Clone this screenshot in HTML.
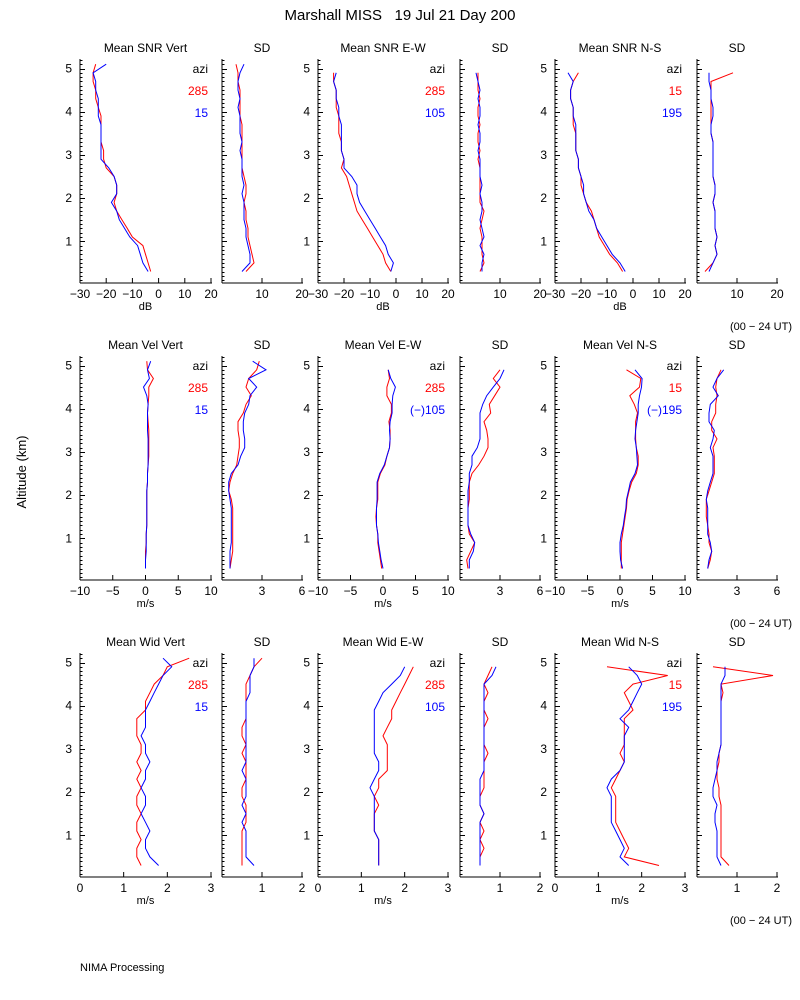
<!DOCTYPE html>
<html><head><meta charset="utf-8"><style>
body{margin:0;background:#fff;}
svg{display:block;font-family:"Liberation Sans",sans-serif;}
text{font-size:12px;}
</style></head><body>
<svg id="chart" width="800" height="1000" viewBox="0 0 800 1000">
<text x="400" y="20" text-anchor="middle" xml:space="preserve" style="font-size:15px;white-space:pre">Marshall MISS   19 Jul 21 Day 200</text>
<text transform="translate(26,472) rotate(-90)" text-anchor="middle" style="font-size:13px">Altitude (km)</text>
<text x="80" y="971" style="font-size:11px">NIMA Processing</text>
</svg>
<script>
const alt=[0.3,0.5,0.7,0.9,1.1,1.3,1.5,1.7,1.9,2.1,2.3,2.5,2.7,2.9,3.1,3.3,3.5,3.7,3.9,4.1,4.3,4.5,4.7,4.9,5.1];
const xTicksSnr=[-30,-20,-10,0,10,20];
const xTicksSnrSd=[10,20];
const xTicksVel=[-10,-5,0,5,10];
const xTicksVelSd=[3,6];
const xTicksWid=[0,1,2,3];
const xTicksWidSd=[1,2];
const yTicks=[1,2,3,4,5];
// Row 1 SNR
const snrVertR=[-3,-4,-5,-6,-10,-12,-14,-16,-17,-16,-16,-17,-20,-21,-21,-22,-22,-22,-22,-23,-24,-24,-25,-25,-24];
const snrVertB=[-4,-6,-7,-8,-11,-13,-15,-16,-18,-16,-16,-17,-19,-22,-22,-22,-22,-22,-23,-23,-23,-24,-24,-25,-20];
const snrVertSdR=[6,8,7.5,7,6.5,6.5,6,6,5.5,6,6,5.5,5,5,5,5,5,5,4.5,4.5,4.5,4.5,4,4,3.5];
const snrVertSdB=[5,7,7,6.5,6,6,5.5,5.5,5.5,5,5.5,5,5,5,4.5,5,4.5,4.5,4.5,4,4.5,4,4,4.5,5.5];
const snrEwR=[-2,-4,-5,-7,-9,-11,-13,-15,-16,-17,-18,-19,-21,-20,-21,-21,-22,-22,-22,-23,-23,-23,-24,-24,null];
const snrEwB=[-2,-1,-3,-4,-6,-8,-10,-12,-14,-15,-15,-17,-20,-20,-21,-21,-21,-21,-22,-22,-23,-23,-24,-23,null];
const snrEwSdR=[5,6,5.5,5.5,5.5,5,5.5,6,5,5,5,5,5,4.5,5,4.5,4.5,5,4.5,4.5,5,4.5,4.5,4.5,null];
const snrEwSdB=[5.5,5.5,6,5,6,5.5,5,5.5,5.5,5,5.5,5,5,5,4.5,5,5,4.5,5,5,4.5,5,4.5,4,null];
const snrNsR=[-4,-6,-9,-11,-13,-14,-15,-16,-18,-19,-20,-20,-21,-21,-22,-22,-22,-23,-23,-23,-24,-24,-23,-21,null];
const snrNsB=[-3,-5,-8,-10,-12,-14,-15,-17,-18,-19,-19,-20,-21,-21,-22,-22,-22,-22,-23,-23,-24,-24,-23,-25,null];
const snrNsSdR=[2,4,5,4.5,5,4.5,4.5,4.5,4,4.5,4.5,4,4,4,4,4,3.5,3.5,3.5,3.5,3.5,3.5,3.5,9,null];
const snrNsSdB=[3,4,5,4.5,5,4.5,4.5,4.5,4,4.5,4.5,4,4,4,4,4,3.5,3.5,4,4,3.5,3.5,3,3,null];
// Row 2 velocity
const velVertR=[0,0,0,0.1,0.1,0.2,0.2,0.2,0.2,0.2,0.3,0.3,0.4,0.5,0.5,0.5,0.5,0.4,0.3,0.4,0.5,0.5,1.2,0.3,0.2];
const velVertB=[0,0,0.1,0.1,0.1,0.2,0.2,0.2,0.2,0.2,0.3,0.3,0.4,0.4,0.4,0.4,0.3,0.3,0.3,0.4,0.2,-0.3,0.6,0.3,0.8];
const velVertSdR=[0.6,0.7,0.8,0.8,0.8,0.8,0.8,0.8,0.7,0.5,0.6,0.8,1.1,1.2,1.3,1.3,1.2,1.2,1.6,1.8,2.2,1.8,2.0,2.6,2.8];
const velVertSdB=[0.6,0.6,0.6,0.7,0.7,0.7,0.7,0.7,0.6,0.5,0.5,0.7,1.2,1.4,1.7,1.7,1.6,1.6,1.7,2.0,2.1,2.6,2.0,3.3,2.3];
const velEwR=[-0.2,-0.4,-0.6,-0.8,-0.8,-1.0,-1.1,-1.0,-0.8,-0.8,-0.8,-0.4,0.3,0.6,1.0,1.1,1.1,0.9,1.3,1.3,0.6,0.6,1.0,0.8,null];
const velEwB=[0,-0.3,-0.5,-0.7,-0.8,-1.0,-1.0,-1.0,-0.9,-0.9,-0.9,-0.5,0.2,0.6,1.0,1.1,1.0,1.1,1.4,1.4,1.5,1.9,1.2,0.8,null];
const velEwSdR=[0.6,0.5,0.8,1.1,0.7,0.6,0.6,0.6,0.7,0.7,0.7,0.9,1.4,1.8,2.1,2.1,2.0,1.8,2.3,2.2,2.6,3.0,2.5,3.0,null];
const velEwSdB=[0.7,0.7,1.0,1.1,0.8,0.6,0.6,0.6,0.6,0.6,0.7,0.7,0.9,0.9,1.3,1.5,1.5,1.5,1.5,1.7,2.0,2.5,3.0,3.3,null];
const velNsR=[0.2,0.2,0.2,0.2,0.4,0.6,0.8,1,1.1,1.4,1.8,2.5,2.8,2.8,2.5,2.4,2.4,2.4,2.7,2.2,1.5,3,3.2,1,null];
const velNsB=[0.4,0.1,0,0,0.2,0.5,0.7,0.9,1.0,1.3,1.6,2.3,2.7,2.6,2.5,2.3,2.4,2.6,2.8,2.8,3,3.3,3.4,2.3,null];
const velNsSdR=[0.8,1.0,1.1,0.9,0.9,0.8,0.7,0.7,0.7,0.9,1.1,1.3,1.3,1.3,1.2,1.5,1.1,1.1,1.4,1.4,1.5,1.4,1.5,1.8,null];
const velNsSdB=[0.8,0.9,1.1,1.0,0.8,0.8,0.8,0.8,0.7,0.8,1.0,1.2,1.2,1.2,1.0,1.2,1.3,0.9,0.9,1.0,1.6,1.2,1.5,2.0,null];
// Row 3 width
const widVertR=[1.4,1.3,1.3,1.4,1.3,1.3,1.4,1.3,1.3,1.4,1.3,1.4,1.3,1.4,1.4,1.3,1.3,1.3,1.5,1.5,1.6,1.7,1.9,2.0,2.5];
const widVertB=[1.8,1.6,1.5,1.5,1.6,1.5,1.4,1.5,1.5,1.4,1.5,1.5,1.6,1.5,1.5,1.4,1.5,1.5,1.5,1.6,1.7,1.8,1.9,2.1,1.9];
const widVertSdR=[0.5,0.5,0.5,0.5,0.5,0.6,0.6,0.6,0.5,0.5,0.6,0.6,0.6,0.5,0.6,0.5,0.5,0.6,0.6,0.6,0.6,0.6,0.7,0.8,1.0];
const widVertSdB=[0.8,0.6,0.6,0.6,0.6,0.5,0.6,0.5,0.6,0.6,0.6,0.5,0.6,0.6,0.6,0.6,0.6,0.6,0.6,0.6,0.7,0.7,0.7,0.8,0.8];
const widEwR=[1.4,1.4,1.4,1.4,1.3,1.3,1.3,1.4,1.3,1.4,1.4,1.6,1.6,1.6,1.6,1.5,1.6,1.7,1.7,1.8,1.9,2.0,2.1,2.2,null];
const widEwB=[1.4,1.4,1.4,1.4,1.3,1.3,1.3,1.3,1.3,1.2,1.3,1.4,1.4,1.3,1.3,1.3,1.3,1.3,1.3,1.4,1.5,1.7,1.9,2.0,null];
const widEwSdR=[0.5,0.5,0.6,0.5,0.6,0.5,0.6,0.5,0.5,0.6,0.6,0.6,0.6,0.7,0.6,0.6,0.6,0.7,0.6,0.6,0.7,0.6,0.7,0.8,null];
const widEwSdB=[0.5,0.5,0.5,0.5,0.5,0.5,0.6,0.5,0.5,0.5,0.5,0.6,0.6,0.6,0.6,0.6,0.6,0.6,0.6,0.6,0.6,0.6,0.8,0.9,null];
const widNsR=[2.4,1.6,1.7,1.6,1.5,1.4,1.4,1.4,1.4,1.3,1.4,1.5,1.6,1.5,1.6,1.6,1.6,1.6,1.8,1.7,1.6,1.8,2.6,1.2,null];
const widNsB=[1.7,1.5,1.6,1.5,1.4,1.3,1.3,1.3,1.3,1.2,1.3,1.5,1.6,1.6,1.6,1.6,1.7,1.5,1.7,1.8,1.9,2.0,1.9,1.7,null];
const widNsSdR=[0.8,0.6,0.6,0.6,0.6,0.6,0.6,0.6,0.55,0.55,0.5,0.5,0.55,0.55,0.6,0.6,0.6,0.6,0.6,0.6,0.65,0.6,1.9,0.4,null];
const widNsSdB=[0.6,0.5,0.5,0.5,0.5,0.45,0.45,0.5,0.4,0.4,0.45,0.5,0.5,0.55,0.6,0.6,0.6,0.6,0.6,0.6,0.6,0.6,0.7,0.7,null];

const NS='http://www.w3.org/2000/svg';
const svg=document.getElementById('chart');
function mk(tag,attrs,parent){const e=document.createElementNS(NS,tag);for(const k in attrs)e.setAttribute(k,attrs[k]);(parent||svg).appendChild(e);return e;}
const cols=[[80,211],[222,302],[318,448],[460,540],[555,685],[697,777]];
const rows=[
 {base:284.5,unit:'dB',mean:[-30,20],sd:[0,20],mt:xTicksSnr,st:xTicksSnrSd,titles:['Mean SNR Vert','Mean SNR E-W','Mean SNR N-S'],leg:[['285','15'],['285','105'],['15','195']],
  data:[[snrVertR,snrVertB],[snrVertSdR,snrVertSdB],[snrEwR,snrEwB],[snrEwSdR,snrEwSdB],[snrNsR,snrNsB],[snrNsSdR,snrNsSdB]]},
 {base:581.5,unit:'m/s',mean:[-10,10],sd:[0,6],mt:xTicksVel,st:xTicksVelSd,titles:['Mean Vel Vert','Mean Vel E-W','Mean Vel N-S'],leg:[['285','15'],['285','(\u2212)105'],['15','(\u2212)195']],
  data:[[velVertR,velVertB],[velVertSdR,velVertSdB],[velEwR,velEwB],[velEwSdR,velEwSdB],[velNsR,velNsB],[velNsSdR,velNsSdB]]},
 {base:878.5,unit:'m/s',mean:[0,3],sd:[0,2],mt:xTicksWid,st:xTicksWidSd,titles:['Mean Wid Vert','Mean Wid E-W','Mean Wid N-S'],leg:[['285','15'],['285','105'],['15','195']],
  data:[[widVertR,widVertB],[widVertSdR,widVertSdB],[widEwR,widEwB],[widEwSdR,widEwSdB],[widNsR,widNsB],[widNsSdR,widNsSdB]]}
];
const PK=43.2;
rows.forEach((r,ri)=>{
 const g=mk('g',{});
 
 
 const yS=a=>r.base-a*PK;
 const top=yS(5.22), bot=r.base-1.5;
 cols.forEach((c,ci)=>{
  const isSd=ci%2===1;
  const dom=isSd?r.sd:r.mean;
  const xS=v=>c[0]+(v-dom[0])/(dom[1]-dom[0])*(c[1]-c[0]);
  const p=mk('g',{},g);
  
  
  const t=mk('text',{x:(c[0]+c[1])/2,y:top-7,'text-anchor':'middle'},p);
  t.textContent=isSd?'SD':r.titles[ci/2];
  
  
  mk('line',{x1:c[0],y1:top,x2:c[0],y2:bot,stroke:'#000'},p);
  mk('line',{x1:c[0],y1:bot,x2:c[1]+1,y2:bot,stroke:'#000'},p);
  for(let a=0.1;a<5.22;a+=0.1){const y=Math.round(yS(a))+0.5;const maj=Math.abs(a-Math.round(a))<0.01;mk('line',{x1:c[0],y1:y,x2:c[0]+(maj?5:2.5),y2:y,stroke:'#000'},p);}
  if(!isSd){yTicks.forEach(v=>{const tx=mk('text',{x:c[0]-8,y:yS(v)+4,'text-anchor':'end'},p);tx.textContent=v;
   
   });}
  const ticks=isSd?r.st:r.mt;
  ticks.forEach(v=>{const x=xS(v);mk('line',{x1:x,y1:bot,x2:x,y2:bot-5,stroke:'#000'},p);
   const tx=mk('text',{x:x,y:bot+15,'text-anchor':'middle'},p);tx.textContent=String(v).replace('-','\u2212');
   
   });
  if(!isSd){const u=mk('text',{x:(c[0]+c[1])/2,y:bot+27,'text-anchor':'middle',style:'font-size:11px'},p);u.textContent=r.unit;
   
   
   const lg=r.leg[ci/2];
   [['azi','#000'],[lg[0],'#f00'],[lg[1],'#00f']].forEach((L,i)=>{const tx=mk('text',{x:c[1]-3,y:yS(4.9)+i*22,'text-anchor':'end',fill:L[1]},p);tx.textContent=L[0];
    
    });}
  r.data[ci].forEach((arr,si)=>{
   const pts=[];arr.forEach((v,i)=>{if(v!==null)pts.push(xS(v).toFixed(1)+','+yS(alt[i]).toFixed(1));});
   const pl=mk('polyline',{points:pts.join(' '),fill:'none',stroke:si?'#00f':'#f00','stroke-width':1},p);
   
   
  });
 });
 const ut=mk('text',{x:792,y:bot+47,'text-anchor':'end',style:'font-size:11px'},g);
 ut.textContent='(00 \u2212 24 UT)';
 
 
});
</script>
</body></html>
